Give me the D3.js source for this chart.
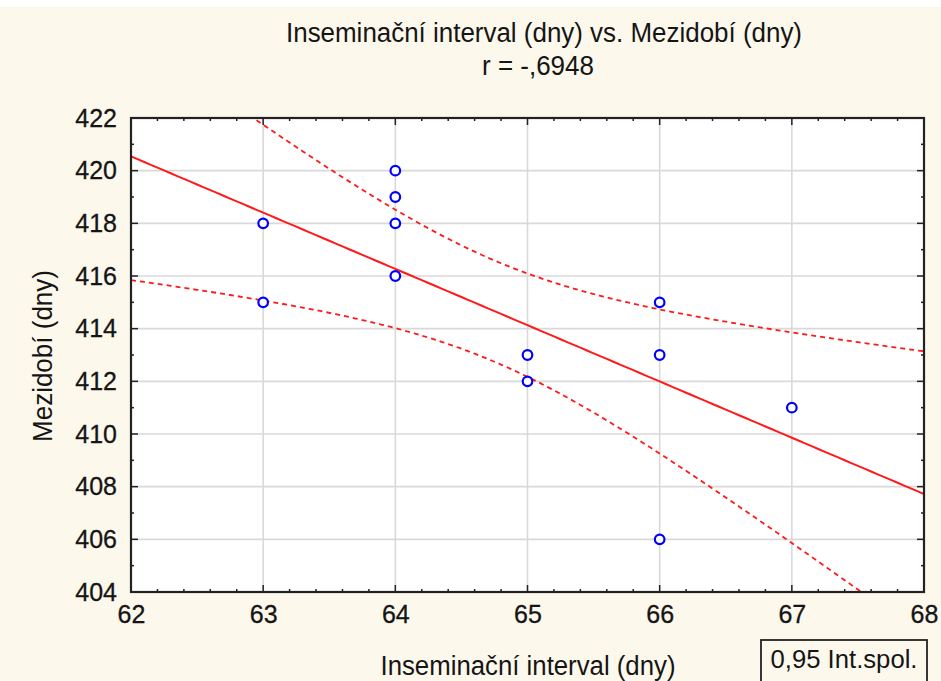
<!DOCTYPE html>
<html><head><meta charset="utf-8">
<script src="https://cdn.jsdelivr.net/npm/d3@7"></script>
<style>html,body{margin:0;padding:0;background:#fdf8ec;}svg{display:block;}</style>
</head><body>
<svg id="c" width="941" height="681"></svg>
<script>
const xValues = [63, 63, 64, 64, 64, 64, 65, 65, 66, 66, 66, 67];
const yValues = [418, 415, 420, 419, 418, 416, 413, 412, 415, 413, 406, 411];
const xTicks = [62, 63, 64, 65, 66, 67, 68];
const yTicks = [404, 406, 408, 410, 412, 414, 416, 418, 420, 422];
const titleText = "Inseminační interval (dny) vs. Mezidobí (dny)";
const rText = "r = -,6948";
const xLabel = "Inseminační interval (dny)";
const yLabel = "Mezidobí (dny)";
const legendText = "0,95 Int.spol.";
const tCrit = 2.228; // t(0.975, df=10)

const svg = d3.select("#c");
const W = 941, H = 681;
const m = {l:131, r:924, t:118, b:592};
svg.append("rect").attr("width",W).attr("height",H).attr("fill","#fdf8ec");
svg.append("rect").attr("width",W).attr("height",7).attr("fill","#ffffff");

const x = d3.scaleLinear().domain([62,68]).range([m.l,m.r]);
const y = d3.scaleLinear().domain([404,422]).range([m.b,m.t]);

svg.append("rect").attr("x",m.l).attr("y",m.t).attr("width",m.r-m.l).attr("height",m.b-m.t).attr("fill","#fff");

// grid
const g = svg.append("g");
g.selectAll("line.gx").data(xTicks.slice(1,-1)).join("line")
  .attr("x1",d=>x(d)).attr("x2",d=>x(d)).attr("y1",m.t).attr("y2",m.b)
  .attr("stroke","#d9d9d9").attr("stroke-width",1.6);
g.selectAll("line.gy").data(yTicks.slice(1,-1)).join("line")
  .attr("y1",d=>y(d)).attr("y2",d=>y(d)).attr("x1",m.l).attr("x2",m.r)
  .attr("stroke","#d9d9d9").attr("stroke-width",1.6);

// regression and confidence band
const n = xValues.length;
const mx = d3.mean(xValues), my = d3.mean(yValues);
let sxx=0, sxy=0, syy=0;
for (let i=0;i<n;i++){ const dx=xValues[i]-mx, dy=yValues[i]-my; sxx+=dx*dx; sxy+=dx*dy; syy+=dy*dy; }
const b = sxy/sxx, a = my - b*mx;
const s = Math.sqrt((syy - sxy*sxy/sxx)/(n-2));
const grid = d3.range(0, 121).map(i => 62 + i*0.05);
const fit = grid.map(xv => [xv, a + b*xv]);
const upper = grid.map(xv => [xv, a + b*xv + tCrit*s*Math.sqrt(1/n + (xv-mx)*(xv-mx)/sxx)]);
const lower = grid.map(xv => [xv, a + b*xv - tCrit*s*Math.sqrt(1/n + (xv-mx)*(xv-mx)/sxx)]);

svg.append("clipPath").attr("id","clip").append("rect")
  .attr("x",m.l).attr("y",m.t).attr("width",m.r-m.l).attr("height",m.b-m.t);
const lg = svg.append("g").attr("clip-path","url(#clip)");
const line = d3.line().x(d=>x(d[0])).y(d=>y(d[1]));
lg.append("path").attr("d",line(fit)).attr("fill","none").attr("stroke","#ff1a1a").attr("stroke-width",2);
[upper, lower].forEach(band => {
  lg.append("path").attr("d",line(band)).attr("fill","none").attr("stroke","#ff1a1a")
    .attr("stroke-width",1.8).attr("stroke-dasharray","5,4");
});

// points
svg.append("g").selectAll("circle").data(xValues.map((v,i)=>[v,yValues[i]])).join("circle")
  .attr("cx",d=>x(d[0])).attr("cy",d=>y(d[1])).attr("r",4.8)
  .attr("fill","#fff").attr("stroke","#0000ff").attr("stroke-width",2.2);

// frame + ticks
const fg = svg.append("g").attr("stroke","#222");
const xMinor = d3.range(62, 68.001, 0.2).map(v=>+v.toFixed(1));
const yMinor = d3.range(404, 422.001, 1);
xMinor.forEach(v => {
  const major = Math.abs(v-Math.round(v))<1e-6;
  const len = major ? 7 : 3;
  fg.append("line").attr("x1",x(v)).attr("x2",x(v)).attr("y1",m.b).attr("y2",m.b-len).attr("stroke-width",1.5);
  fg.append("line").attr("x1",x(v)).attr("x2",x(v)).attr("y1",m.t).attr("y2",m.t+len).attr("stroke-width",1.5);
});
yMinor.forEach(v => {
  const major = v%2===0;
  const len = major ? 7 : 3;
  fg.append("line").attr("y1",y(v)).attr("y2",y(v)).attr("x1",m.l).attr("x2",m.l+len).attr("stroke-width",1.5);
  fg.append("line").attr("y1",y(v)).attr("y2",y(v)).attr("x1",m.r).attr("x2",m.r-len).attr("stroke-width",1.5);
});
svg.append("rect").attr("x",m.l).attr("y",m.t).attr("width",m.r-m.l).attr("height",m.b-m.t)
  .attr("fill","none").attr("stroke","#222").attr("stroke-width",2.2);

// axis via d3 axes for labels
const font = "'Liberation Sans', Arial, sans-serif";
const xAxis = svg.append("g").attr("transform",`translate(0,${m.b})`)
  .call(d3.axisBottom(x).tickValues(xTicks).tickFormat(d3.format("d")).tickSize(0).tickPadding(13));
const yAxis = svg.append("g").attr("transform",`translate(${m.l},0)`)
  .call(d3.axisLeft(y).tickValues(yTicks).tickFormat(d3.format("d")).tickSize(0).tickPadding(14));
[xAxis,yAxis].forEach(ax => {
  ax.select(".domain").remove();
  ax.selectAll("text").attr("font-family",font).attr("font-size",25).attr("fill","#151515")
    .attr("stroke","#151515").attr("stroke-width",0.3);
});

const txt = (t, xx, yy, size, len) => svg.append("text").attr("x",xx).attr("y",yy)
  .attr("text-anchor","middle").attr("font-family",font).attr("font-size",size).attr("fill","#151515")
  .attr("textLength",len).attr("lengthAdjust","spacingAndGlyphs").text(t);

txt(titleText, 544, 42, 27, 516);
txt(rText, 538, 75, 27, 112);
txt(xLabel, 528, 675, 27, 295);
svg.append("text").attr("transform","translate(52,356) rotate(-90)")
  .attr("text-anchor","middle").attr("font-family",font).attr("font-size",27).attr("fill","#151515")
  .attr("textLength",172).attr("lengthAdjust","spacingAndGlyphs").text(yLabel);

// legend
svg.append("rect").attr("x",761).attr("y",640).attr("width",166).attr("height",42)
  .attr("fill","#fdf8ec").attr("stroke","#222").attr("stroke-width",1.8);
svg.append("text").attr("x",844).attr("y",668).attr("text-anchor","middle")
  .attr("font-family",font).attr("font-size",25).attr("fill","#151515")
  .attr("textLength",147).attr("lengthAdjust","spacingAndGlyphs").text(legendText);
</script>
</body></html>
